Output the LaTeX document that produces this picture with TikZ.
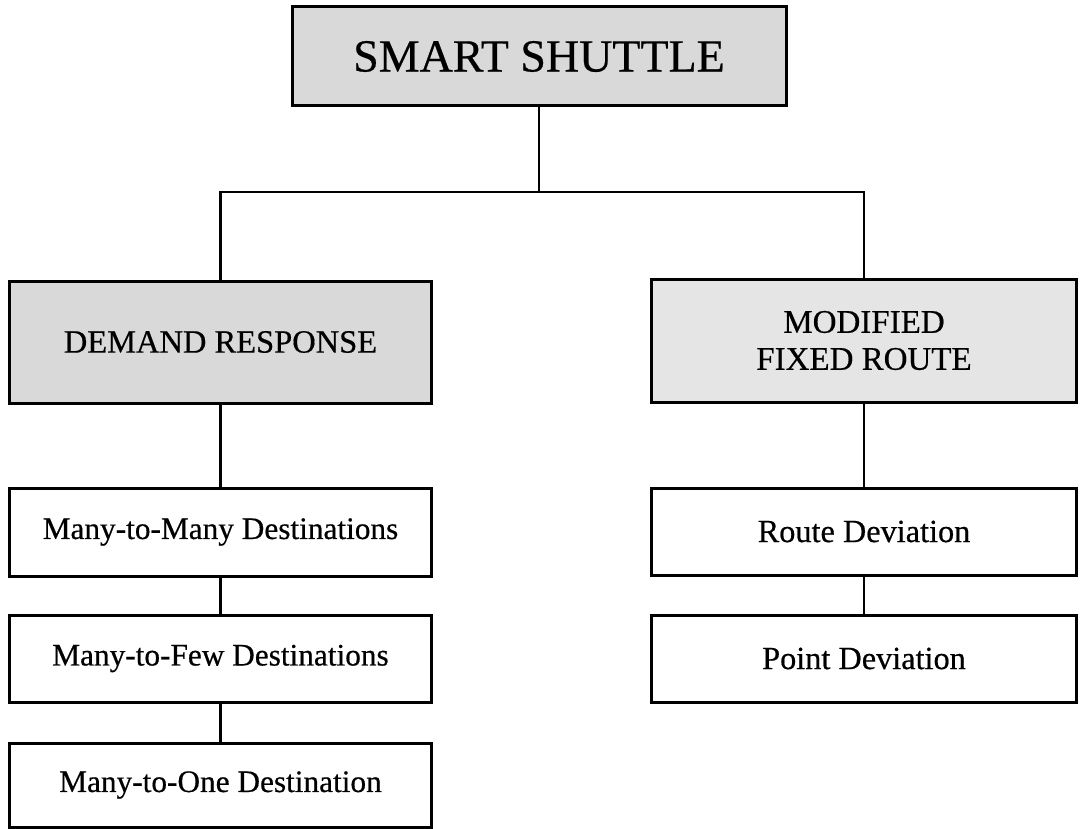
\documentclass[tikz,border=0pt]{standalone}
\usepackage{fontspec}
\setmainfont{Liberation Serif}[FakeBold=0.5]
\begin{document}
\begin{tikzpicture}[x=1pt,y=-1pt,
  box/.style={draw=black, line width=3pt, inner sep=0pt, outer sep=0pt,
    align=center, text=black},
  shaded/.style={box, fill=black!15},
  lightshaded/.style={box, fill=black!10},
  plain/.style={box, fill=white},
  link/.style={draw=black, line width=2.6pt}]
\useasboundingbox (0,0) rectangle (1081,829);

% title box
\node[shaded, minimum width=494pt, minimum height=99pt,
  font=\fontsize{46}{50}\selectfont] (top) at (539,56.5) {SMART SHUTTLE};

% two service families
\node[shaded, minimum width=422pt, minimum height=122pt,
  font=\fontsize{32.5}{37}\selectfont] (dr) at (220.5,342) {DEMAND RESPONSE};
\node[lightshaded, minimum width=425pt, minimum height=123pt,
  font=\fontsize{33}{37}\selectfont] (mfr) at (864,340.5) {MODIFIED\\FIXED ROUTE};

% demand response variants
\node[plain, minimum width=422pt, minimum height=88pt,
  font=\fontsize{31.3}{36}\selectfont] (mtm) at (220.5,532) {Many-to-Many Destinations};
\node[plain, minimum width=422pt, minimum height=87pt,
  font=\fontsize{31.3}{36}\selectfont] (mtf) at (220.5,658.5) {Many-to-Few Destinations};
\node[plain, minimum width=422pt, minimum height=84pt,
  font=\fontsize{31.3}{36}\selectfont] (mto) at (220.5,785) {Many-to-One Destination};

% modified fixed route variants
\node[plain, minimum width=425pt, minimum height=87pt,
  font=\fontsize{32.3}{36}\selectfont] (rd) at (864,531.5) {Route Deviation};
\node[plain, minimum width=425pt, minimum height=87pt,
  font=\fontsize{32.3}{36}\selectfont] (pd) at (864,658.5) {Point Deviation};

% branching connectors
\coordinate (bus) at (539,192);
\draw[link] (top.south) -- (bus);
\draw[link] (dr.north) |- (bus) -| (mfr.north);

\draw[link] (dr.south) -- (mtm.north);
\draw[link] (mtm.south) -- (mtf.north);
\draw[link] (mtf.south) -- (mto.north);

\draw[link] (mfr.south) -- (rd.north);
\draw[link] (rd.south) -- (pd.north);
\end{tikzpicture}
\end{document}
